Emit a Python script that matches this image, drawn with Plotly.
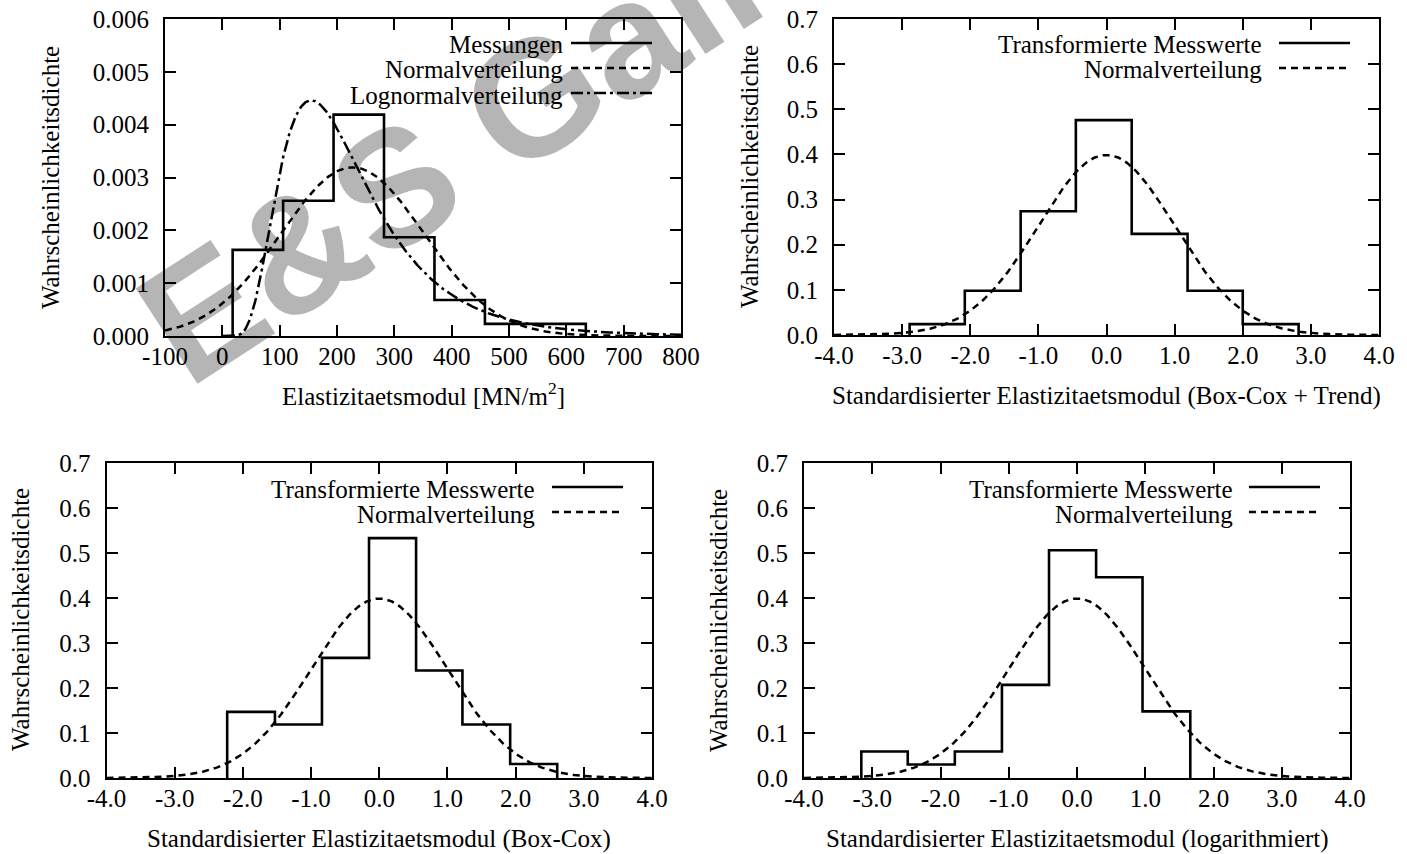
import numpy as np
import plotly.graph_objects as go

W, H = 1407, 854

# ---------------- data ----------------
# Panel 1: Elastizitaetsmodul histogram + fitted distributions
p1_edges = [18, 106, 194, 282, 370, 458, 546, 634]
p1_heights = [0.00163, 0.00256, 0.00419, 0.00187, 0.00068, 0.00023, 0.00023]
p1_norm_mu, p1_norm_sigma = 227.0, 125.0
p1_logn_mu, p1_logn_sigma = 5.30, 0.508

# Panel 2: Box-Cox + Trend
p2_edges = [-2.89, -2.08, -1.26, -0.45, 0.37, 1.19, 2.00, 2.82]
p2_heights = [0.024, 0.098, 0.274, 0.476, 0.224, 0.098, 0.024]

# Panel 3: Box-Cox
p3_edges = [-2.23, -1.53, -0.84, -0.15, 0.54, 1.22, 1.92, 2.61]
p3_heights = [0.147, 0.119, 0.267, 0.533, 0.239, 0.119, 0.031]

# Panel 4: logarithmiert
p4_edges = [-3.16, -2.48, -1.79, -1.10, -0.41, 0.28, 0.96, 1.66]
p4_heights = [0.059, 0.030, 0.059, 0.207, 0.506, 0.446, 0.148]

std_mu, std_sigma = 0.0, 1.0

# ticks
p1_xticks = [-100, 0, 100, 200, 300, 400, 500, 600, 700, 800]
p1_xticktext = ["-100", "0", "100", "200", "300", "400", "500", "600", "700", "800"]
p1_yticks = [0.000, 0.001, 0.002, 0.003, 0.004, 0.005, 0.006]
p1_yticktext = ["0.000", "0.001", "0.002", "0.003", "0.004", "0.005", "0.006"]
std_xticks = [-4, -3, -2, -1, 0, 1, 2, 3, 4]
std_xticktext = ["-4.0", "-3.0", "-2.0", "-1.0", "0.0", "1.0", "2.0", "3.0", "4.0"]
std_yticks = [0.0, 0.1, 0.2, 0.3, 0.4, 0.5, 0.6, 0.7]
std_yticktext = ["0.0", "0.1", "0.2", "0.3", "0.4", "0.5", "0.6", "0.7"]

# labels
ylabel = "Wahrscheinlichkeitsdichte"
xlabels = [
    "Elastizitaetsmodul [MN/m<sup>2</sup>]",
    "Standardisierter Elastizitaetsmodul (Box-Cox + Trend)",
    "Standardisierter Elastizitaetsmodul (Box-Cox)",
    "Standardisierter Elastizitaetsmodul (logarithmiert)",
]
legend1 = ["Messungen", "Normalverteilung", "Lognormalverteilung"]
legend_std = ["Transformierte Messwerte", "Normalverteilung"]
watermark = "E&amp;S Gallery"

# ---------------- helpers ----------------
FONT = "Liberation Serif, Times New Roman, serif"
FS = 25
DASH = "7px,5px"
DASHDOT = "12px,4px,3px,4px"


def norm_pdf(x, mu, s):
    return np.exp(-0.5 * ((x - mu) / s) ** 2) / (s * np.sqrt(2 * np.pi))


def logn_pdf(x, m, s):
    return np.exp(-0.5 * ((np.log(x) - m) / s) ** 2) / (x * s * np.sqrt(2 * np.pi))


def step_xy(edges, heights):
    xs = [edges[0]] + list(edges)
    ys = [0] + list(heights) + [0]
    return xs, ys


def px2x(p):
    return p / W


def px2y(p):
    return 1 - p / H


fig = go.Figure()

# panel boxes in page pixels: (left, right, top, bottom)
boxes = [
    (165, 681, 19, 336),
    (834, 1379, 19, 335),
    (106.5, 652, 463, 778),
    (804, 1350, 463, 778),
]

# Panel 1
xs, ys = step_xy(p1_edges, p1_heights)
fig.add_trace(go.Scatter(x=xs, y=ys, mode="lines", line=dict(color="black", width=2.6, shape="hv"),
                         xaxis="x", yaxis="y", showlegend=False, name=legend1[0]))
xn = np.linspace(-100, 800, 500)
fig.add_trace(go.Scatter(x=xn, y=norm_pdf(xn, p1_norm_mu, p1_norm_sigma), mode="lines",
                         line=dict(color="black", width=2.5, dash=DASH),
                         xaxis="x", yaxis="y", showlegend=False, name=legend1[1]))
xl = np.linspace(1, 800, 600)
fig.add_trace(go.Scatter(x=xl, y=logn_pdf(xl, p1_logn_mu, p1_logn_sigma), mode="lines",
                         line=dict(color="black", width=2.5, dash=DASHDOT),
                         xaxis="x", yaxis="y", showlegend=False, name=legend1[2]))

# Panels 2-4
xs_std = np.linspace(-4, 4, 400)
for i, (edges, heights) in enumerate([(p2_edges, p2_heights), (p3_edges, p3_heights), (p4_edges, p4_heights)], start=2):
    xs, ys = step_xy(edges, heights)
    fig.add_trace(go.Scatter(x=xs, y=ys, mode="lines", line=dict(color="black", width=2.6, shape="hv"),
                             xaxis=f"x{i}", yaxis=f"y{i}", showlegend=False, name=legend_std[0]))
    fig.add_trace(go.Scatter(x=xs_std, y=norm_pdf(xs_std, std_mu, std_sigma), mode="lines",
                             line=dict(color="black", width=2.5, dash=DASH),
                             xaxis=f"x{i}", yaxis=f"y{i}", showlegend=False, name=legend_std[1]))

axis_common = dict(showline=True, linecolor="black", linewidth=2, mirror="ticks",
                   ticks="inside", ticklen=11, tickwidth=2, tickcolor="black",
                   showgrid=False, zeroline=False, automargin=False, ticklabeloverflow="allow",
                   tickfont=dict(family=FONT, size=FS, color="black"), tickmode="array")

layout_axes = {}
for i, (l, r, t, b) in enumerate(boxes, start=1):
    sfx = "" if i == 1 else str(i)
    if i == 1:
        xr, xt, xtt = [-100, 800], p1_xticks, p1_xticktext
        yr, yt, ytt = [0, 0.006], p1_yticks, p1_yticktext
    else:
        xr, xt, xtt = [-4, 4], std_xticks, std_xticktext
        yr, yt, ytt = [0, 0.7], std_yticks, std_yticktext
    layout_axes["xaxis" + sfx] = dict(axis_common, domain=[px2x(l), px2x(r)], range=xr,
                                      tickvals=xt, ticktext=xtt, anchor="y" + sfx,
                                      ticklabelstandoff=-3)
    layout_axes["yaxis" + sfx] = dict(axis_common, domain=[px2y(b), px2y(t)], range=yr,
                                      tickvals=yt, ticktext=ytt, anchor="x" + sfx,
                                      ticklabelstandoff=9)

annotations = []
shapes = []

# watermark (semi-transparent grey, so black lines stay black)
annotations.append(dict(x=px2x(553), y=px2y(85), xref="paper", yref="paper", text="<b>" + watermark + "</b>",
                        showarrow=False, xanchor="center", yanchor="middle", textangle=-33,
                        font=dict(family="Liberation Sans, Arial, sans-serif", size=165,
                                  color="rgba(0,0,0,0.29)")))

# axis titles
xtitle_pos = [(423, 394), (1106, 396), (379, 839), (1077, 839)]
ytitle_pos = [(50, 178), (749, 177), (20, 620), (718, 620)]
for (xp, yp), txt in zip(xtitle_pos, xlabels):
    annotations.append(dict(x=px2x(xp), y=px2y(yp), xref="paper", yref="paper", text=txt,
                            showarrow=False, xanchor="center", yanchor="middle",
                            font=dict(family=FONT, size=FS, color="black")))
for (xp, yp) in ytitle_pos:
    annotations.append(dict(x=px2x(xp), y=px2y(yp), xref="paper", yref="paper", text=ylabel,
                            showarrow=False, xanchor="center", yanchor="middle", textangle=-90,
                            font=dict(family=FONT, size=FS, color="black")))

# manual gnuplot-style legends (text right-aligned, key sample on the right)
legend_specs = [
    (legend1, ["solid", DASH, DASHDOT], 565, 571, 652, [43, 68, 93]),
    (legend_std, ["solid", DASH], 1264, 1279, 1350, [43, 68]),
    (legend_std, ["solid", DASH], 537, 552, 623, [487, 512]),
    (legend_std, ["solid", DASH], 1235, 1249, 1320, [487, 512]),
]
for labels, dashes, tx, lx0, lx1, rows in legend_specs:
    for lab, dsh, ry in zip(labels, dashes, rows):
        annotations.append(dict(x=px2x(tx), y=px2y(ry + 2), xref="paper", yref="paper", text=lab,
                                showarrow=False, xanchor="right", yanchor="middle",
                                font=dict(family=FONT, size=FS, color="black")))
        shapes.append(dict(type="line", xref="paper", yref="paper",
                           x0=px2x(lx0), x1=px2x(lx1), y0=px2y(ry), y1=px2y(ry),
                           line=dict(color="black", width=2.5, dash=dsh)))

fig.update_layout(
    width=W, height=H,
    margin=dict(l=0, r=0, t=0, b=0, autoexpand=False),
    paper_bgcolor="white", plot_bgcolor="white",
    showlegend=False,
    annotations=annotations,
    shapes=shapes,
    **layout_axes,
)

# remove the browser's default 8px body margin so the figure fills the window exactly
fig.write_html("out.html", config={"displayModeBar": False},
               post_script="document.body.style.margin='0px';")
